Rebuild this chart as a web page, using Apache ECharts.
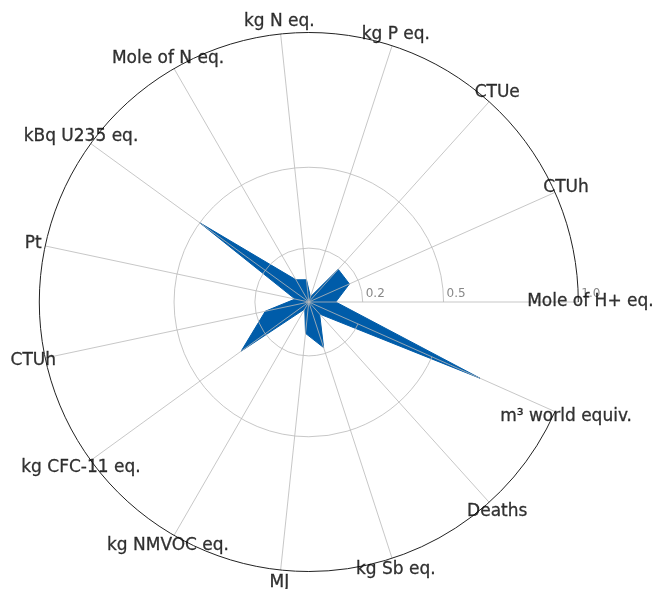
<!DOCTYPE html>
<html>
<head>
<meta charset="utf-8">
<script src="https://cdn.jsdelivr.net/npm/echarts@6/dist/echarts.min.js"></script>
<style>
  html, body { margin: 0; padding: 0; background: #ffffff; }
  #chart { width: 654px; height: 589px; }
</style>
</head>
<body>
<div id="chart"></div>
<script>
// Impact categories, counter-clockwise from the right-hand spoke
const categories = [
  'Mole of H+ eq.', 'CTUh', 'CTUe', 'kg P eq.', 'kg N eq.',
  'Mole of N eq.', 'kBq U235 eq.', 'Pt', 'CTUh', 'kg CFC-11 eq.',
  'kg NMVOC eq.', 'MJ', 'kg Sb eq.', 'Deaths', 'm\u00b3 world equiv.'
];

// Normalised score per category (0 to 1)
const scores = [
  0.10, 0.165, 0.163, 0.02, 0.083,
  0.095, 0.50, 0.052, 0.165, 0.31,
  0.03, 0.117, 0.178, 0.06, 0.695
];

// Radial rings that carry a label
const ringTicks = [0.2, 0.5, 1.0];

const FILL = '#005ca9';
const GRID = '#b9b9b9';
const CENTER = [308.8, 302];
const RADIUS = 269.5;
const LABEL_R = 1.045;   // where the category names sit, in radius units
const STEP = 0.1;

// one colour per 0.1 ring; only the labelled inner rings are drawn
const ringColors = [];
for (let k = 0; k <= 10; k++) {
  const v = k * STEP;
  const shown = ringTicks.some(t => Math.abs(t - v) < 1e-6 && t < 1);
  ringColors.push(shown ? GRID : 'rgba(0,0,0,0)');
}

const chart = echarts.init(document.getElementById('chart'), null, { renderer: 'canvas' });

chart.setOption({
  backgroundColor: '#ffffff',
  animation: false,
  // polar frame: spokes, rings, ring labels and category names
  polar: { center: CENTER, radius: RADIUS },
  angleAxis: {
    type: 'category',
    data: categories.map((c, i) => String(i)),
    startAngle: 0,
    clockwise: false,
    boundaryGap: false,
    z: 10,
    axisLine: { show: true, lineStyle: { color: '#222222', width: 1 } },
    axisTick: { show: false },
    axisLabel: { show: false },
    splitLine: { show: true, lineStyle: { color: GRID, width: 0.8 } }
  },
  radiusAxis: {
    type: 'value',
    min: 0,
    max: 1,
    interval: STEP,
    z: 10,
    axisLine: { show: false },
    axisTick: { show: false },
    splitLine: { show: true, lineStyle: { color: ringColors, width: 0.8 } },
    axisLabel: {
      show: true,
      margin: 2,
      align: 'left',
      verticalAlign: 'bottom',
      padding: [0, 0, 0, 3],
      color: '#888888',
      fontFamily: 'DejaVu Sans',
      fontSize: 12,
      formatter: function (v) {
        return ringTicks.some(t => Math.abs(t - v) < 1e-6) ? v.toFixed(1) : '';
      }
    }
  },
  // radar on the same centre and radius carries the filled polygon
  radar: {
    center: CENTER,
    radius: RADIUS,
    startAngle: 0,
    shape: 'circle',
    indicator: categories.map(name => ({ name: name, min: 0, max: 1 })),
    axisName: { show: false },
    axisLine: { show: false },
    axisTick: { show: false },
    axisLabel: { show: false },
    splitLine: { show: false },
    splitArea: { show: false },
    z: 1
  },
  series: [
    {
      type: 'radar',
      z: 2,
      symbol: 'none',
      lineStyle: { color: FILL, width: 1 },
      itemStyle: { color: FILL },
      areaStyle: { color: FILL, opacity: 1 },
      data: [{ value: scores }]
    },
    {
      type: 'scatter',
      coordinateSystem: 'polar',
      clip: false,
      silent: true,
      z: 20,
      symbolSize: 1,
      itemStyle: { color: 'rgba(0,0,0,0)' },
      data: categories.map((c, i) => [LABEL_R, i]),
      label: {
        show: true,
        position: 'inside',
        align: 'center',
        verticalAlign: 'middle',
        color: '#000000',
        textBorderColor: '#000000',
        textBorderWidth: 0.3,
        fontFamily: 'DejaVu Sans',
        fontSize: 17,
        formatter: function (p) { return categories[p.dataIndex]; }
      }
    }
  ]
});
</script>
</body>
</html>
